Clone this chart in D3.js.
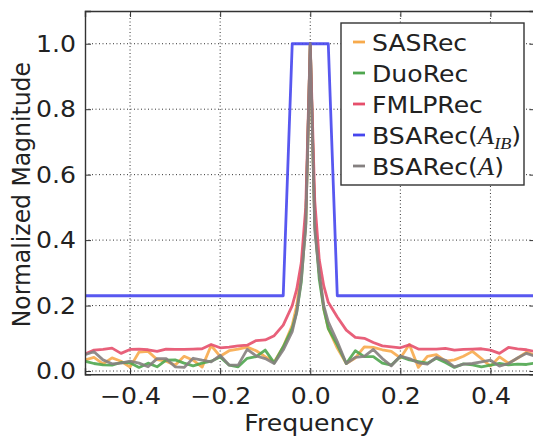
<!DOCTYPE html>
<html><head><meta charset="utf-8">
<script src="https://cdn.jsdelivr.net/npm/d3@7"></script>
<style>body{margin:0;background:#fff}svg{display:block}text{font-family:"DejaVu Sans",sans-serif;fill:#222}</style>
</head><body><svg id="c" width="533" height="437"></svg>
<script>
const freq = [-0.50,-0.48,-0.46,-0.44,-0.42,-0.40,-0.38,-0.36,-0.34,-0.32,-0.30,-0.28,-0.26,-0.24,-0.22,-0.20,-0.18,-0.16,-0.14,-0.12,-0.10,
  -0.08,-0.06,-0.04,-0.03,-0.02,-0.01,0,0.01,0.02,0.03,0.04,0.06,0.08,
  0.10,0.12,0.14,0.16,0.18,0.20,0.22,0.24,0.26,0.28,0.30,0.32,0.34,0.36,0.38,0.40,0.42,0.44,0.46,0.48,0.50];
const sasrec = [0.034,0.042,0.022,0.040,0.030,0.012,0.058,0.060,0.035,0.030,0.018,0.045,0.033,0.012,0.078,0.045,0.062,0.067,0.073,0.062,0.044,
  0.028,0.074,0.14,0.20,0.30,0.45,1.0,0.45,0.30,0.19,0.13,0.07,0.023,
  0.040,0.074,0.072,0.065,0.060,0.040,0.081,0.011,0.045,0.050,0.030,0.034,0.045,0.060,0.038,0.015,0.043,0.024,0.039,0.058,0.048];
const duorec = [0.030,0.023,0.019,0.018,0.026,0.025,0.011,0.024,0.013,0.033,0.034,0.024,0.016,0.024,0.030,0.043,0.018,0.013,0.039,0.044,0.064,
  0.025,0.074,0.13,0.18,0.27,0.45,1.0,0.45,0.28,0.19,0.13,0.08,0.023,
  0.062,0.044,0.044,0.024,0.018,0.044,0.034,0.029,0.024,0.039,0.026,0.011,0.022,0.019,0.013,0.018,0.023,0.019,0.021,0.020,0.025];
const fmlprec = [0.052,0.064,0.066,0.070,0.054,0.066,0.067,0.065,0.060,0.067,0.066,0.066,0.067,0.068,0.081,0.071,0.073,0.077,0.079,0.093,0.095,
  0.108,0.14,0.20,0.25,0.33,0.50,1.0,0.52,0.34,0.26,0.21,0.165,0.125,
  0.103,0.100,0.087,0.077,0.074,0.071,0.080,0.067,0.067,0.067,0.069,0.064,0.066,0.067,0.068,0.064,0.054,0.072,0.068,0.065,0.059];
const bsarecA = [0.050,0.059,0.034,0.022,0.024,0.030,0.024,0.013,0.038,0.038,0.013,0.011,0.039,0.033,0.028,0.048,0.018,0.018,0.066,0.046,0.038,
  0.023,0.064,0.12,0.18,0.28,0.44,1.0,0.43,0.30,0.20,0.15,0.09,0.023,
  0.042,0.045,0.066,0.038,0.016,0.046,0.038,0.025,0.021,0.042,0.033,0.013,0.021,0.023,0.028,0.033,0.015,0.023,0.040,0.054,0.045];
const ibFreq = [-0.50,-0.06,-0.04,0.04,0.06,0.50];
const bsarecIB = [0.23,0.23,1.0,1.0,0.23,0.23];
const xTicks = [-0.4,-0.2,0.0,0.2,0.4];
const yTicks = [0.0,0.2,0.4,0.6,0.8,1.0];

const series = [
  {name:"SASRec", x:freq, y:sasrec, color:"#f7aa4c"},
  {name:"DuoRec", x:freq, y:duorec, color:"#4fa64f"},
  {name:"FMLPRec", x:freq, y:fmlprec, color:"#e64f6b"},
  {name:"IB", x:ibFreq, y:bsarecIB, color:"#4646ee"},
  {name:"A", x:freq, y:bsarecA, color:"#858080"}
];

const FS = "23.5px", SX = 1.07;
const svg = d3.select("#c");
const L=85, R=535.5, T=11, B=374.3;
const x = d3.scaleLinear().domain([-0.5,0.5]).range([L,R]);
const y = d3.scaleLinear().domain([-0.01,1.1]).range([B,T]);

// grid
const g = svg.append("g");
g.selectAll(".gx").data(xTicks).join("line").attr("x1",d=>x(d)).attr("x2",d=>x(d)).attr("y1",T).attr("y2",B)
  .attr("stroke","#333").attr("stroke-width",1).attr("stroke-dasharray","1,2.5");
g.selectAll(".gy").data(yTicks).join("line").attr("y1",d=>y(d)).attr("y2",d=>y(d)).attr("x1",L).attr("x2",R)
  .attr("stroke","#333").attr("stroke-width",1).attr("stroke-dasharray","1,2.5");

// lines
svg.append("clipPath").attr("id","cp").append("rect").attr("x",L).attr("y",T).attr("width",R-L).attr("height",B-T);
const lg = svg.append("g").attr("clip-path","url(#cp)");
series.forEach(s=>{
  const pts = s.x.map((f,i)=>[f,s.y[i]]);
  lg.append("path").datum(pts).attr("fill","none").attr("stroke",s.color).attr("stroke-width",2.8)
    .attr("stroke-opacity",0.9).attr("stroke-linejoin","round")
    .attr("d",d3.line().x(d=>x(d[0])).y(d=>y(d[1])));
});

// axes
const fmt = d=> d3.format(".1f")(d).replace("-","\u2212");
const ax = svg.append("g").attr("transform",`translate(0,${B})`)
  .call(d3.axisBottom(x).tickValues(xTicks).tickSize(-6).tickPadding(12).tickFormat(fmt));
const axt = svg.append("g").attr("transform",`translate(0,${T})`)
  .call(d3.axisTop(x).tickValues(xTicks).tickSize(-6).tickFormat(""));
const ay = svg.append("g").attr("transform",`translate(${L},0)`)
  .call(d3.axisLeft(y).tickValues(yTicks).tickSize(-6).tickPadding(9).tickFormat(d=>d3.format(".1f")(d)));
const ayr = svg.append("g").attr("transform",`translate(${R},0)`)
  .call(d3.axisRight(y).tickValues(yTicks).tickSize(-6).tickFormat(""));
[ax,axt,ay,ayr].forEach(a=>{
  a.selectAll("path.domain").attr("stroke","#333").attr("stroke-width",1.4);
  a.selectAll(".tick line").attr("stroke","#333").attr("stroke-width",1);
  a.selectAll("text").style("font-family","DejaVu Sans").style("font-size",FS).attr("fill","#222");
});
ax.selectAll("text").attr("dy","0.75em").attr("transform",`scale(${SX},1)`);
ay.selectAll("text").each(function(){
  const t=d3.select(this); const xx=+t.attr("x");
  t.attr("transform",`translate(${xx},0) scale(${SX},1) translate(${-xx},0)`);
});

svg.append("text").attr("transform",`translate(${(L+R)/2-1},431) scale(${SX},1)`).attr("text-anchor","middle")
  .style("font-size",FS).text("Frequency");
svg.append("text").attr("transform",`translate(30,${(T+B)/2+2}) rotate(-90) scale(1,${SX})`).attr("text-anchor","middle")
  .style("font-size",FS).text("Normalized Magnitude");

// legend
const leg = svg.append("g");
leg.append("rect").attr("x",341).attr("y",23).attr("width",183).attr("height",162)
  .attr("fill","#fff").attr("stroke","#333").attr("stroke-width",1.4);
const labels = ["SASRec","DuoRec","FMLPRec","IB","A"];
const MF = "Liberation Serif";
series.forEach((s,i)=>{
  const cy = 42 + i*31;
  leg.append("line").attr("x1",353).attr("x2",365).attr("y1",cy).attr("y2",cy)
    .attr("stroke",s.color).attr("stroke-width",2.8);
  const t = leg.append("text").attr("transform",`translate(372,${cy+8.5}) scale(${SX},1)`).style("font-size",FS);
  if (labels[i]==="IB"){
    t.append("tspan").text("BSARec(");
    t.append("tspan").style("font-family",MF).style("font-style","italic").style("font-size","25px").text("A");
    t.append("tspan").style("font-family",MF).style("font-style","italic").style("font-size","17px").attr("dy",5).text("IB");
    t.append("tspan").attr("dy",-5).text(")");
  } else if (labels[i]==="A"){
    t.append("tspan").text("BSARec(");
    t.append("tspan").style("font-family",MF).style("font-style","italic").style("font-size","25px").text("A");
    t.append("tspan").text(")");
  } else t.text(labels[i]);
});
</script>
</body></html>
